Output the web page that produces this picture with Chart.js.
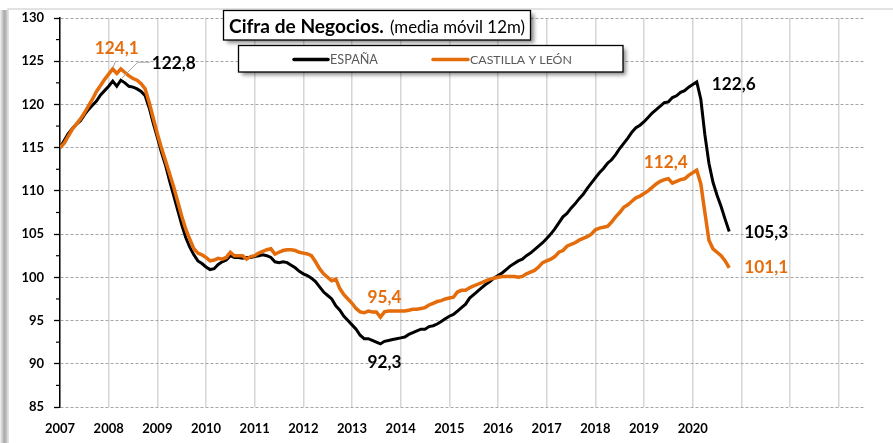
<!DOCTYPE html>
<html lang="es">
<head>
<meta charset="UTF-8">
<title>Cifra de Negocios</title>
<script src="https://cdn.jsdelivr.net/npm/chart.js"></script>
<style>
  html, body { margin: 0; padding: 0; background: #fff; }
  #caja { width: 893px; height: 443px; position: relative; }
</style>
</head>
<body>
<div id="caja"><canvas id="grafico"></canvas></div>
<script>
// datos mensuales, enero 2007 - octubre 2020 (media móvil 12m)
const primerAnio = 2007;
const etiquetasAnios = ['2007', '2008', '2009', '2010', '2011', '2012', '2013',
                        '2014', '2015', '2016', '2017', '2018', '2019', '2020'];
const ticksY = [85, 90, 95, 100, 105, 110, 115, 120, 125, 130];

const espana = [
  115.0, 115.8, 116.6, 117.2, 117.7, 118.1, 118.8, 119.4, 119.9, 120.4, 121.1, 121.6,
  122.1, 122.7, 122.1, 122.8, 122.5, 122.1, 122.0, 121.8, 121.5, 121.0, 119.6, 117.8,
  116.2, 114.5, 113.0, 111.2, 109.5, 107.8, 106.1, 104.6, 103.5, 102.6, 101.9, 101.6,
  101.2, 100.9, 101.0, 101.5, 101.8, 102.0, 102.5, 102.3, 102.3, 102.2, 102.3, 102.3,
  102.4, 102.5, 102.6, 102.5, 102.3, 101.8, 101.7, 101.8, 101.7, 101.4, 101.1, 100.7,
  100.4, 100.2, 99.9, 99.5, 98.9, 98.3, 97.9, 97.5, 96.7, 96.2, 95.5, 95.0,
  94.5, 94.0, 93.3, 92.9, 92.9, 92.7, 92.5, 92.3, 92.6, 92.7, 92.8, 92.9,
  93.0, 93.1, 93.4, 93.6, 93.8, 94.0, 94.0, 94.3, 94.4, 94.6, 94.9, 95.2,
  95.5, 95.7, 96.1, 96.5, 96.9, 97.6, 98.0, 98.4, 98.8, 99.2, 99.5, 99.9,
  100.2, 100.5, 100.9, 101.3, 101.6, 101.9, 102.1, 102.5, 102.8, 103.2, 103.6, 104.0,
  104.5, 105.0, 105.6, 106.3, 107.0, 107.4, 108.0, 108.5, 109.1, 109.6, 110.3, 110.9,
  111.5, 112.1, 112.6, 113.2, 113.6, 114.2, 114.9, 115.5, 116.1, 116.8, 117.3, 117.6,
  118.0, 118.5, 119.0, 119.4, 119.8, 120.2, 120.3, 120.8, 121.0, 121.4, 121.6, 122.0,
  122.3, 122.6, 120.6, 116.5, 113.2, 111.0, 109.5, 108.2, 106.7, 105.3
];

const castilla = [
  115.0, 115.5, 116.3, 117.1, 117.7, 118.3, 119.0, 119.8, 120.6, 121.5, 122.2, 122.9,
  123.5, 124.1, 123.6, 124.1, 123.7, 123.3, 123.0, 122.8, 122.4, 121.8, 120.2, 118.4,
  116.6, 115.0, 113.5, 112.0, 110.5, 108.8, 107.1, 105.6, 104.4, 103.3, 102.8, 102.6,
  102.3, 101.9, 102.0, 102.2, 102.1, 102.3, 102.9, 102.5, 102.5, 102.5, 102.1, 102.4,
  102.5, 102.8, 103.0, 103.2, 103.3, 102.7, 102.9, 103.1, 103.2, 103.2, 103.1, 102.9,
  102.8, 102.7, 102.5, 101.8, 101.0, 100.4, 100.0, 99.6, 99.8, 98.7, 98.0, 97.5,
  97.0, 96.4, 96.0, 95.9, 96.1, 96.0, 96.0, 95.4, 96.0, 96.1, 96.1, 96.1,
  96.1, 96.1, 96.2, 96.3, 96.3, 96.4, 96.5, 96.8, 97.0, 97.2, 97.3, 97.5,
  97.6, 97.7, 98.3, 98.5, 98.5, 98.8, 99.0, 99.2, 99.4, 99.6, 99.8, 99.9,
  100.0, 100.1, 100.1, 100.1, 100.1, 100.0, 100.1, 100.4, 100.6, 100.8, 101.2, 101.7,
  101.9, 102.1, 102.4, 102.9, 103.1, 103.6, 103.8, 104.0, 104.3, 104.5, 104.7, 105.0,
  105.5, 105.7, 105.8, 105.9, 106.4, 107.0, 107.5, 108.1, 108.4, 108.8, 109.2, 109.4,
  109.7, 110.0, 110.4, 110.8, 111.1, 111.3, 111.4, 110.9, 111.1, 111.3, 111.4, 111.8,
  112.1, 112.4, 110.8, 107.5, 104.3, 103.3, 102.9, 102.5, 101.9, 101.1
];

const NEGRO = '#000000';
const NARANJA = '#E46C0A';
const fuente = 'Lato, "Open Sans", sans-serif';

function aPuntos(serie) {
  return serie.map((v, i) => ({ x: primerAnio + i / 12, y: v }));
}
function fmt(v) {
  return v.toFixed(1).replace('.', ',');
}
// ajusta el tamaño de letra para que el texto ocupe un ancho dado
function fuenteAjustada(ctx, texto, peso, ancho) {
  ctx.font = peso + ' 20px ' + fuente;
  const t = 20 * ancho / ctx.measureText(texto).width;
  return peso + ' ' + t.toFixed(2) + 'px ' + fuente;
}

// etiquetas de los valores destacados: [dataset, indice mes, dx, dy, alineacion]
const destacados = [
  [1, 13, 4, -21, 'center'],
  [0, 15, 31, -17, 'left'],
  [1, 79, 4, -20, 'center'],
  [0, 79, 4, 19, 'center'],
  [1, 157, -31, -8, 'center'],
  [0, 157, 15, 2, 'left'],
  [0, 165, 15, 1, 'left'],
  [1, 165, 15, 0, 'left']
];

const decorado = {
  id: 'decorado',
  beforeDraw(chart) {
    const ctx = chart.ctx;
    ctx.save();
    ctx.fillStyle = '#fff';
    ctx.fillRect(0, 0, chart.width, chart.height);
    // marco exterior con sombra
    const g = ctx.createLinearGradient(0, 0, 8, 0);
    g.addColorStop(0, '#f2f2f2');
    g.addColorStop(0.55, '#a9a9a9');
    g.addColorStop(1, '#d6d6d6');
    ctx.fillStyle = g;
    ctx.fillRect(0, 10, 8, chart.height);
    ctx.strokeStyle = '#d9d9d9';
    ctx.lineWidth = 1.5;
    ctx.beginPath();
    ctx.moveTo(8, chart.height);
    ctx.lineTo(8, 9);
    ctx.lineTo(chart.width, 9);
    ctx.stroke();
    ctx.restore();
  },
  afterDatasetsDraw(chart) {
    const ctx = chart.ctx;
    const y = chart.scales.y;
    ctx.save();
    // marcas menores del eje Y
    ctx.strokeStyle = NEGRO;
    ctx.lineWidth = 1.2;
    for (let i = 0; i < ticksY.length - 1; i++) {
      const py = y.getPixelForValue((ticksY[i] + ticksY[i + 1]) / 2);
      ctx.beginPath();
      ctx.moveTo(y.right - 4, py);
      ctx.lineTo(y.right, py);
      ctx.stroke();
    }
    // lineas guia de las etiquetas del maximo 2008
    const pC = chart.getDatasetMeta(1).data[13];
    const pE = chart.getDatasetMeta(0).data[15];
    ctx.strokeStyle = '#a6a6a6';
    ctx.lineWidth = 1;
    ctx.beginPath();
    ctx.moveTo(pC.x, pC.y - 1);
    ctx.lineTo(pC.x + 3, pC.y - 8);
    ctx.stroke();
    ctx.beginPath();
    ctx.moveTo(pE.x + 1, pE.y - 2);
    ctx.lineTo(pE.x + 17, pE.y - 18);
    ctx.lineTo(pE.x + 29, pE.y - 18);
    ctx.stroke();
    // etiquetas
    ctx.font = fuenteAjustada(ctx, '122,8', 'bold', 44);
    ctx.textBaseline = 'middle';
    destacados.forEach(([ds, idx, dx, dy, al]) => {
      const p = chart.getDatasetMeta(ds).data[idx];
      const valor = chart.data.datasets[ds].data[idx].y;
      ctx.fillStyle = chart.data.datasets[ds].borderColor;
      ctx.textAlign = al;
      ctx.fillText(fmt(valor), p.x + dx, p.y + dy);
    });
    ctx.restore();
  },
  afterDraw(chart) {
    const ctx = chart.ctx;
    ctx.save();
    const caja = (x, y, w, h) => {
      ctx.save();
      ctx.shadowColor = 'rgba(0,0,0,0.45)';
      ctx.shadowBlur = 4;
      ctx.shadowOffsetX = 3;
      ctx.shadowOffsetY = 3;
      ctx.fillStyle = '#fff';
      ctx.fillRect(x, y, w, h);
      ctx.restore();
      ctx.strokeStyle = NEGRO;
      ctx.lineWidth = 1.3;
      ctx.strokeRect(x, y, w, h);
    };
    // titulo
    caja(223.5, 10.5, 307, 29.5);
    ctx.fillStyle = NEGRO;
    ctx.textBaseline = 'alphabetic';
    ctx.textAlign = 'left';
    const t1 = 'Cifra de Negocios.';
    const t2 = '(media móvil 12m)';
    ctx.font = fuenteAjustada(ctx, t1, 'bold', 155);
    ctx.fillText(t1, 229, 33);
    ctx.font = fuenteAjustada(ctx, t2, 'normal', 135);
    ctx.fillText(t2, 390, 33);
    // leyenda
    caja(238.5, 45.5, 384.5, 26.5);
    const items = [
      { texto: chart.data.datasets[0].label, color: NEGRO, x0: 294, x1: 328, ancho: 48 },
      { texto: chart.data.datasets[1].label, color: NARANJA, x0: 433, x1: 468, ancho: 102 }
    ];
    ctx.textBaseline = 'middle';
    items.forEach(it => {
      ctx.strokeStyle = it.color;
      ctx.lineWidth = 3.5;
      ctx.lineCap = 'round';
      ctx.beginPath();
      ctx.moveTo(it.x0, 59.5);
      ctx.lineTo(it.x1, 59.5);
      ctx.stroke();
      ctx.fillStyle = '#595959';
      ctx.font = fuenteAjustada(ctx, it.texto, 'normal', it.ancho);
      ctx.fillText(it.texto, it.x1 + 2, 60);
    });
    ctx.restore();
  }
};

new Chart(document.getElementById('grafico'), {
  type: 'line',
  data: {
    datasets: [
      {
        label: 'ESPAÑA',
        data: aPuntos(espana),
        borderColor: NEGRO,
        borderWidth: 3,
        pointRadius: 0,
        tension: 0,
        order: 2
      },
      {
        label: 'CASTILLA Y LEÓN',
        data: aPuntos(castilla),
        borderColor: NARANJA,
        borderWidth: 3.5,
        pointRadius: 0,
        tension: 0,
        order: 1
      }
    ]
  },
  options: {
    responsive: true,
    maintainAspectRatio: false,
    devicePixelRatio: 1,
    animation: false,
    layout: { padding: { left: 0, right: 28, top: 18, bottom: 0 } },
    plugins: {
      legend: { display: false },
      tooltip: { enabled: false },
      title: { display: false }
    },
    scales: {
      x: {
        type: 'linear',
        min: primerAnio,
        max: 2023.54,
        afterFit: s => { s.height = 36; },
        // solo años enteros
        afterBuildTicks: s => { s.ticks = s.ticks.filter(t => Number.isInteger(t.value)); },
        ticks: {
          stepSize: 1,
          includeBounds: false,
          autoSkip: false,
          maxRotation: 0,
          padding: 14,
          color: NEGRO,
          font: { family: fuente, size: 13, weight: 'bold' },
          callback: (v, i) => etiquetasAnios[i] || ''
        },
        grid: { color: '#d6d6d6', lineWidth: 1.5, drawTicks: false },
        border: { display: false }
      },
      y: {
        min: ticksY[0],
        max: ticksY[ticksY.length - 1],
        afterFit: s => { s.width = 60; },
        ticks: {
          stepSize: 5,
          padding: 10,
          color: NEGRO,
          font: { family: fuente, size: 13, weight: 'bold' }
        },
        grid: { color: '#a6a6a6', lineWidth: 1, tickLength: 6, tickColor: NEGRO, tickWidth: 1.3 },
        border: { display: true, color: NEGRO, width: 1.5, dash: [3, 2] }
      }
    }
  },
  plugins: [decorado]
});
</script>
</body>
</html>
